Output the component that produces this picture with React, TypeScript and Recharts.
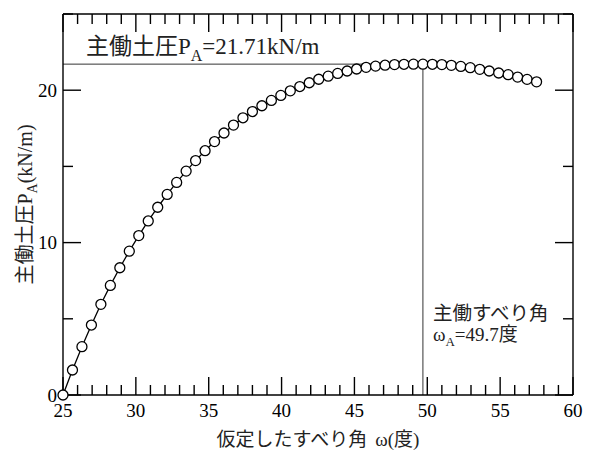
import React from 'react';
import { LineChart, Line, XAxis, YAxis, ReferenceLine } from 'recharts';

// ---- data ----
const omega = [
  25, 25.65, 26.3, 26.95, 27.6, 28.25, 28.9, 29.55, 30.2, 30.85,
  31.5, 32.15, 32.8, 33.45, 34.1, 34.75, 35.4, 36.05, 36.7, 37.35,
  38, 38.65, 39.3, 39.95, 40.6, 41.25, 41.9, 42.55, 43.2, 43.85,
  44.5, 45.15, 45.8, 46.45, 47.1, 47.75, 48.4, 49.05, 49.7, 50.35,
  51, 51.65, 52.3, 52.95, 53.6, 54.25, 54.9, 55.55, 56.2, 56.85, 57.5,
];
const pressure = [
  0, 1.64, 3.17, 4.59, 5.95, 7.19, 8.35, 9.44, 10.46, 11.42,
  12.32, 13.16, 13.95, 14.69, 15.38, 16.03, 16.63, 17.19, 17.71, 18.19,
  18.6, 18.98, 19.33, 19.66, 19.96, 20.24, 20.49, 20.72, 20.92, 21.1,
  21.26, 21.39, 21.5, 21.58, 21.64, 21.68, 21.7, 21.71, 21.71, 21.7,
  21.68, 21.63, 21.56, 21.48, 21.37, 21.26, 21.13, 21.02, 20.86, 20.71, 20.55,
];
const xMinorTicks = [
  25, 26, 27, 28, 29, 30, 31, 32, 33, 34, 35, 36, 37, 38, 39, 40, 41, 42,
  43, 44, 45, 46, 47, 48, 49, 50, 51, 52, 53, 54, 55, 56, 57, 58, 59, 60,
];
const xMajorTicks = [25, 30, 35, 40, 45, 50, 55, 60];
const yMinorTicks = [0, 5, 10, 15, 20, 25];
const yMajorTicks = [0, 10, 20];
const peakOmega = 49.7;
const peakP = 21.71;

const data = omega.map((w, i) => ({ w, p: pressure[i] }));

// ---- layout / style ----
const FONT = '"Liberation Serif","Times New Roman","Noto Sans CJK JP",serif';
const SW = 1.4;
const XMIN = 25, XMAX = 60, YMIN = 0, YMAX = 25;
const CHART_W = 575, CHART_H = 445;
const MARGIN = { top: 6, right: 10, bottom: 57, left: 54 };
const PLOT_W = CHART_W - MARGIN.left - MARGIN.right - 1; // 510
const PLOT_H = CHART_H - MARGIN.top - MARGIN.bottom - 1; // 381
// tick lengths in px, converted to data units so the ticks point inward
const MAJOR_PX = 18, MINOR_PX = 10;
const xUnitsPerPx = (XMAX - XMIN) / PLOT_W;
const yUnitsPerPx = (YMAX - YMIN) / PLOT_H;

const tickFont = { fontSize: 19, fontFamily: FONT, fill: '#000' };
const axisStyle = { stroke: '#000', strokeWidth: SW };

function XLabel(props: any) {
  const vb = props.viewBox;
  return (
    <text x={vb.x + vb.width / 2} y={vb.y + 51} textAnchor="middle" fontSize={19} fontFamily={FONT} fill="#222">
      仮定したすべり角<tspan dx={8}>ω(度)</tspan>
    </text>
  );
}

function YLabel(props: any) {
  const vb = props.viewBox;
  const cx = vb.x + vb.width - 31;
  const cy = vb.y + vb.height / 2;
  return (
    <text
      x={cx}
      y={cy}
      transform={`rotate(-90 ${cx} ${cy})`}
      textAnchor="middle"
      fontSize={20}
      fontFamily={FONT}
      fill="#222"
    >
      主働土圧P
      <tspan fontSize={14} dy={5}>A</tspan>
      <tspan dy={-5}>(kN/m)</tspan>
    </text>
  );
}

function TitleLabel(props: any) {
  const vb = props.viewBox;
  return (
    <text x={vb.x + 23} y={vb.y - 10} fontSize={23} fontFamily={FONT} fill="#222">
      主働土圧P
      <tspan fontSize={16} dy={7}>A</tspan>
      <tspan dy={-7}>=21.71kN/m</tspan>
    </text>
  );
}

function AngleLabel(props: any) {
  const vb = props.viewBox;
  const bottom = vb.y + vb.height;
  const x = vb.x + 10;
  return (
    <g>
      <text x={x} y={bottom - 75} fontSize={19.5} fontFamily={FONT} fill="#222">
        主働すべり角
      </text>
      <text x={x} y={bottom - 54} fontSize={19} fontFamily={FONT} fill="#222">
        ω
        <tspan fontSize={13} dy={5}>A</tspan>
        <tspan dy={-5}>=49.7度</tspan>
      </text>
    </g>
  );
}

function tickSegments() {
  const segs: any[] = [];
  xMinorTicks.forEach((v) => {
    const len = (xMajorTicks.includes(v) ? MAJOR_PX : MINOR_PX) * yUnitsPerPx;
    segs.push({ key: `b${v}`, s: [{ x: v, y: YMIN }, { x: v, y: YMIN + len }] });
    segs.push({ key: `t${v}`, s: [{ x: v, y: YMAX }, { x: v, y: YMAX - len }] });
  });
  yMinorTicks.forEach((v) => {
    const len = (yMajorTicks.includes(v) ? MAJOR_PX : MINOR_PX) * xUnitsPerPx;
    segs.push({ key: `l${v}`, s: [{ x: XMIN, y: v }, { x: XMIN + len, y: v }] });
    segs.push({ key: `r${v}`, s: [{ x: XMAX, y: v }, { x: XMAX - len, y: v }] });
  });
  return segs;
}

export default function App() {
  return (
    <div style={{ width: CHART_W, height: CHART_H }}>
      <LineChart width={CHART_W} height={CHART_H} data={data} margin={MARGIN}>
        <XAxis
          xAxisId="b"
          dataKey="w"
          type="number"
          domain={[XMIN, XMAX]}
          ticks={xMajorTicks}
          interval={0}
          height={1}
          tickSize={0}
          tickMargin={9}
          tickLine={false}
          axisLine={axisStyle}
          tick={tickFont}
          label={<XLabel />}
        />
        <YAxis
          yAxisId="l"
          type="number"
          domain={[YMIN, YMAX]}
          ticks={yMajorTicks}
          interval={0}
          width={1}
          tickSize={0}
          tickMargin={6}
          tickLine={false}
          axisLine={axisStyle}
          tick={tickFont}
          label={<YLabel />}
        />
        {/* frame: top and right edges */}
        <ReferenceLine xAxisId="b" yAxisId="l" y={YMAX} stroke="#000" strokeWidth={SW} ifOverflow="visible" />
        <ReferenceLine xAxisId="b" yAxisId="l" x={XMAX} stroke="#000" strokeWidth={SW} ifOverflow="visible" />
        {/* inward tick marks on all four sides */}
        {tickSegments().map((t) => (
          <ReferenceLine
            key={t.key}
            xAxisId="b"
            yAxisId="l"
            segment={t.s}
            stroke="#000"
            strokeWidth={SW}
            ifOverflow="visible"
          />
        ))}
        <ReferenceLine
          xAxisId="b"
          yAxisId="l"
          segment={[
            { x: XMIN, y: peakP },
            { x: peakOmega, y: peakP },
          ]}
          stroke="#333"
          strokeWidth={1}
          ifOverflow="visible"
          label={<TitleLabel />}
        />
        <ReferenceLine
          xAxisId="b"
          yAxisId="l"
          segment={[
            { x: peakOmega, y: peakP },
            { x: peakOmega, y: YMIN },
          ]}
          stroke="#333"
          strokeWidth={1}
          ifOverflow="visible"
          label={<AngleLabel />}
        />
        <Line
          xAxisId="b"
          yAxisId="l"
          dataKey="p"
          type="linear"
          stroke="#000"
          strokeWidth={1.3}
          dot={{ r: 5, fill: '#fff', stroke: '#000', strokeWidth: 1.3 }}
          isAnimationActive={false}
        />
      </LineChart>
    </div>
  );
}
